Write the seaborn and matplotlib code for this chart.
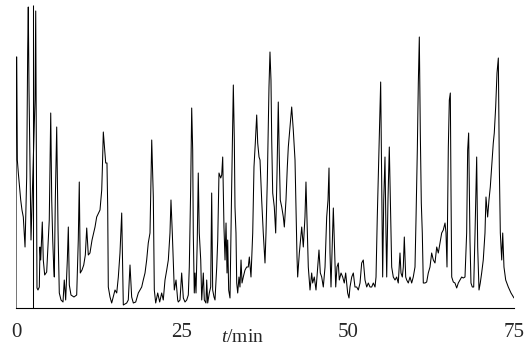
import numpy as np
import pandas as pd
import seaborn as sns
import matplotlib
matplotlib.use("Agg")
import matplotlib.pyplot as plt

# retention time (min) and detector response (arbitrary units)
time_min = [
    0.00, 0.02, 0.11, 0.20, 0.35, 0.71, 0.90, 1.10, 1.36, 1.61, 1.76, 1.85, 1.96, 2.26,
    2.86, 2.97, 3.06, 3.16, 3.31, 3.51, 3.61, 3.72, 3.96, 4.11, 4.32, 4.62, 5.01, 5.23,
    5.38, 5.53, 5.68, 5.77, 5.92, 6.13, 6.33, 6.52, 6.78, 7.08, 7.27, 7.48, 7.73, 7.88,
    8.03, 8.28, 8.73, 9.14, 9.38, 9.53, 9.68, 9.94, 10.20, 10.44, 10.65, 10.89, 11.14,
    11.45, 11.90, 12.15, 12.65, 12.91, 13.00, 13.15, 13.51, 13.70, 13.81, 13.90, 14.16,
    14.41, 14.91, 15.17, 15.41, 15.66, 15.92, 16.07, 16.16, 16.67, 16.91, 17.17, 17.42,
    17.67, 18.03, 18.42, 18.67, 18.93, 19.17, 19.43, 19.68, 19.92, 20.18, 20.44, 20.68,
    20.83, 21.04, 21.34, 21.64, 21.94, 22.18, 22.44, 22.70, 22.94, 23.19, 23.34, 23.54,
    23.84, 24.10, 24.35, 24.44, 24.70, 24.95, 25.20, 25.45, 25.71, 25.95, 26.10, 26.31,
    26.46, 26.61, 26.70, 26.85, 26.96, 27.11, 27.30, 27.45, 27.60, 27.82, 27.97, 28.21,
    28.36, 28.61, 28.72, 28.87, 29.11, 29.32, 29.47, 29.62, 29.82, 29.97, 30.23, 30.38,
    30.57, 30.83, 30.98, 31.13, 31.32, 31.48, 31.63, 31.78, 31.88, 32.03, 32.23, 32.48,
    32.73, 32.88, 32.98, 33.13, 33.24, 33.39, 33.58, 33.73, 33.89, 34.04, 34.23, 34.49,
    34.74, 34.98, 35.14, 35.39, 35.65, 35.84, 36.04, 36.25, 36.40, 36.60, 36.75, 37.00,
    37.24, 37.50, 37.65, 37.85, 38.00, 38.10, 38.25, 38.40, 38.51, 38.66, 38.90, 39.11,
    39.31, 39.50, 39.65, 39.80, 40.02, 40.26, 40.41, 40.66, 40.86, 41.01, 41.27, 41.52,
    41.76, 42.02, 42.17, 42.32, 42.42, 42.67, 43.03, 43.27, 43.52, 43.67, 43.87, 44.02,
    44.28, 44.53, 44.68, 44.92, 45.18, 45.44, 45.63, 45.83, 46.04, 46.28, 46.54, 46.79,
    46.99, 47.14, 47.29, 47.44, 47.64, 47.79, 47.94, 48.15, 48.34, 48.54, 48.69, 48.95,
    49.20, 49.44, 49.65, 49.95, 50.15, 50.30, 50.56, 50.80, 51.05, 51.31, 51.55, 51.81,
    52.06, 52.30, 52.56, 52.82, 53.06, 53.31, 53.57, 53.81, 54.07, 54.22, 54.41, 54.67,
    54.82, 54.92, 55.07, 55.22, 55.38, 55.57, 55.72, 55.83, 56.02, 56.22, 56.43, 56.58,
    56.82, 57.08, 57.33, 57.57, 57.83, 57.98, 58.18, 58.33, 58.48, 58.69, 58.84, 59.08,
    59.34, 59.59, 59.83, 60.09, 60.24, 60.44, 60.59, 60.74, 60.89, 61.04, 61.19, 61.34,
    61.60, 61.85, 62.09, 62.35, 62.60, 62.85, 63.10, 63.36, 63.60, 63.86, 64.11, 64.35,
    64.61, 64.76, 64.91, 65.11, 65.26, 65.41, 65.51, 65.62, 65.86, 66.11, 66.37, 66.61,
    66.87, 67.12, 67.36, 67.62, 67.87, 68.02, 68.17, 68.37, 68.52, 68.72, 68.93, 69.13,
    69.38, 69.53, 69.73, 69.92, 70.13, 70.37, 70.63, 70.78, 71.03, 71.23, 71.43, 71.64,
    71.88, 72.03, 72.24, 72.44, 72.64, 72.79, 72.94, 73.15, 73.30, 73.49, 73.75, 74.14,
    74.55, 74.90, 75.00,
]
response = [
    0, 251, 251, 148, 135, 108, 98, 91, 61, 131, 258, 301, 218, 68,
    208, 297, 158, 20, 18, 21, 61, 48, 86, 48, 33, 36, 88, 195,
    108, 68, 41, 31, 108, 181, 78, 15, 8, 6, 28, 8, 48, 81,
    23, 13, 11, 13, 68, 126, 35, 38, 43, 53, 80, 53, 55,
    68, 81, 91, 98, 118, 138, 176, 145, 145, 101, 21, 11,
    5, 18, 15, 31, 55, 95, 41, 3, 5, 8, 43, 11,
    5, 6, 15, 18, 21, 28, 35, 48, 65, 75, 168, 111,
    18, 5, 15, 6, 15, 8, 28, 38, 48, 75, 108, 75,
    18, 28, 8, 6, 8, 35, 10, 6, 8, 13, 41, 121,
    200, 158, 75, 15, 35, 15, 68, 135, 75, 48, 8, 35,
    8, 5, 28, 5, 15, 21, 115, 18, 11, 8, 41, 68,
    135, 130, 133, 151, 81, 48, 85, 35, 68, 18, 10, 121,
    223, 168, 101, 75, 25, 15, 31, 21, 48, 25, 31, 38,
    41, 41, 51, 31, 75, 141, 165, 193, 165, 151, 148, 108,
    75, 45, 75, 128, 181, 221, 256, 228, 168, 115, 101, 75,
    135, 206, 151, 108, 101, 91, 81, 108, 141, 161, 181, 201,
    178, 148, 101, 51, 31, 55, 81, 61, 91, 126, 75, 41,
    18, 35, 25, 31, 18, 41, 58, 35, 31, 21, 41, 91,
    108, 140, 55, 21, 68, 100, 68, 21, 41, 45, 28, 35,
    31, 25, 35, 15, 10, 21, 31, 35, 21, 21, 18, 25,
    45, 48, 28, 21, 25, 21, 21, 25, 21, 31, 91, 158,
    195, 226, 128, 31, 108, 151, 75, 31, 108, 161, 91, 41,
    31, 28, 31, 25, 55, 35, 31, 41, 71, 31, 28, 25,
    31, 25, 31, 41, 88, 158, 225, 271, 175, 105, 75, 25,
    25, 26, 35, 41, 55, 48, 45, 61, 55, 65, 75, 78,
    85, 75, 41, 161, 208, 215, 118, 31, 26, 25, 20, 25,
    28, 31, 30, 31, 75, 158, 175, 68, 25, 21, 21, 75,
    151, 61, 18, 25, 35, 48, 75, 111, 91, 108, 121, 141,
    165, 175, 201, 235, 250, 141, 75, 48, 75, 41, 28, 21,
    15, 11, 10,
]
# thin marker line drawn across the whole trace near the start
marker_time = 2.56
marker_top = 303

df = pd.DataFrame({"t": time_min, "signal": response})

sns.set_style("white")
plt.rcParams["font.family"] = ["Liberation Serif", "DejaVu Serif"]
plt.rcParams["mathtext.fontset"] = "custom"
plt.rcParams["mathtext.it"] = "Liberation Serif:italic"
plt.rcParams["mathtext.rm"] = "Liberation Serif"

fig = plt.figure(figsize=(5.31, 3.47), dpi=100)
ax = fig.add_axes([16 / 531, 39 / 347, 498 / 531, 308 / 347])

sns.lineplot(data=df, x="t", y="signal", ax=ax, color="black", linewidth=0.75,
             sort=False, estimator=None)
ax.vlines(marker_time, 0, marker_top, color="black", linewidth=0.75)

ax.set_xlim(0, 75)
ax.set_ylim(0, 308)
ax.set_xticks([0, 25, 50, 75])
ax.set_yticks([])
ax.set_ylabel("")
ax.set_xlabel("$t$/min", fontsize=14)
ax.xaxis.set_label_coords(0.454, -0.068)
ax.tick_params(axis="x", direction="out", length=2, width=0.8, pad=9, labelsize=15)

for side in ["top", "right", "left"]:
    ax.spines[side].set_visible(False)
ax.spines["bottom"].set_linewidth(0.8)
ax.spines["bottom"].set_color("black")
ax.patch.set_alpha(0)

fig.savefig("out.png", dpi=100)
